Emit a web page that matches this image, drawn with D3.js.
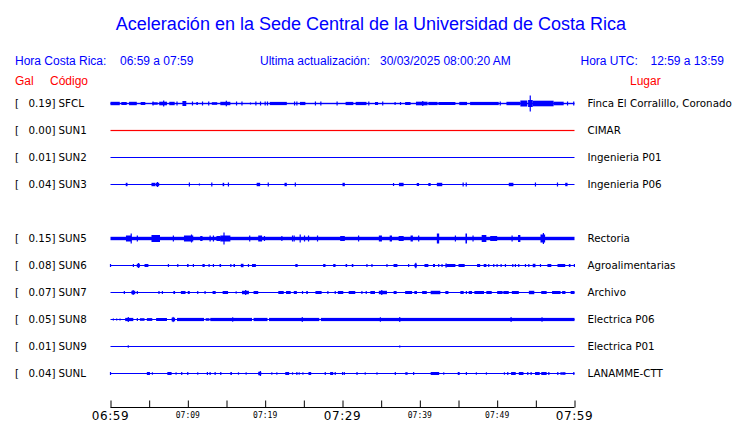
<!DOCTYPE html>
<html>
<head>
<meta charset="utf-8">
<script src="https://cdn.jsdelivr.net/npm/d3@7"></script>
<style>
  html, body { margin: 0; padding: 0; background: #fff; }
  svg { display: block; }
</style>
</head>
<body>
<svg id="chart" width="740" height="423"></svg>
<script>
// ---------------- DATA ----------------
const titleText = "Aceleración en la Sede Central de la Universidad de Costa Rica";
const localRange = "06:59 a 07:59";
const utcRange = "12:59 a 13:59";
const lastUpdate = "30/03/2025 08:00:20 AM";

// row slots (SUN4 slot is empty in the picture)
const slots = ["SFCL","SUN1","SUN2","SUN3","SUN4","SUN5","SUN6","SUN7","SUN8","SUN9","SUNL"];
const stations = ["SFCL","SUN1","SUN2","SUN3","SUN5","SUN6","SUN7","SUN8","SUN9","SUNL"];
const peakGal = [0.19, 0.00, 0.01, 0.04, 0.15, 0.08, 0.07, 0.05, 0.01, 0.04];
const places = ["Finca El Corralillo, Coronado","CIMAR","Ingenieria P01","Ingenieria P06",
                "Rectoria","Agroalimentarias","Archivo","Electrica P06","Electrica P01","LANAMME-CTT"];
// background noise level (relative amplitude) of each trace
const baseLevel = [0.07, 0.06, 0.05, 0.05, 0.17, 0.05, 0.05, 0.05, 0.05, 0.05];

// time axis: minutes after 06:59
const tickMinutes = [0,5,10,15,20,25,30,35,40,45,50,55,60];
const tickLabels = {0:"06:59",10:"07:09",20:"07:19",30:"07:29",40:"07:39",50:"07:49",60:"07:59"};
const majorLabels = [0,30,60];

// bursts: [start minute, end minute, relative amplitude]
const sfclBursts = [[0,1.2,.17],[1.4,2.1,.15],[2.4,3.4,.17],[3.9,4.5,.15],[5.4,6.1,.12],[6.3,7.3,.18],[6.8,6.9,.3],
  [7.6,8.3,.17],[9.3,9.8,.25],[11.1,11.3,.15],[13.1,13.8,.13],[14.2,15.5,.17],[14.9,15.0,.28],[20.6,22.8,.16],
  [24.5,25.2,.16],[30.4,31.4,.16],[31.7,33.1,.16],[34.2,34.6,.15],[38.1,38.8,.15],[39.5,41.0,.18],[40.3,40.4,.25],
  [41.1,42.3,.16],[42.4,44.6,.15],[45.1,46.1,.16],[46.5,50.2,.16],[51.2,53.0,.17],[53.0,53.9,.3],[54.0,54.6,.35],
  [54.2,54.3,.8],[54.6,57.3,.28],[57.3,58.6,.18]];
const sfclSpikes = [[5.5,.2],[8.6,.2],[10.6,.2],[11.9,.2],[12.7,.2],[16.3,.2],[17.0,.2],[18.1,.1],[18.8,.2],[19.4,.2],
  [20.0,.2],[20.3,.2],[23.8,.2],[24.1,.2],[26.5,.2],[27.2,.2],[29.3,.2],[33.4,.2],[35.2,.2],[36.8,.15],[37.5,.15],
  [50.4,.2],[59.1,.2],[59.9,.2]];

const sun1Bursts = [], sun1Spikes = [];
const sun2Bursts = [], sun2Spikes = [];

const sun3Bursts = [[1.97,2.2,.17],[5.3,5.8,.17],[5.85,6.3,.17],[6.0,6.1,.25],[14.5,14.7,.17],[18.9,19.35,.17],
  [22.5,22.8,.17],[30.0,30.3,.17],[37.3,37.9,.17],[39.6,39.9,.15],[41.1,41.4,.15],[42.2,42.9,.17],[51.5,52.1,.17],
  [58.8,59.1,.17]];
const sun3Spikes = [[10.2,.2],[11.5,.1],[13.1,.2],[15.25,.2],[20.4,.2],[23.9,.2],[36.6,.15],[45.6,.2],[46.0,.2],
  [54.95,.2],[57.8,.2]];

const sun5Bursts = [[2.0,2.7,.3],[2.6,2.7,.5],[5.3,6.4,.35],[9.5,10.7,.3],[10.4,10.5,.4],[11.6,11.9,.25],
  [13.7,14.2,.25],[14.2,15.5,.3],[14.6,14.7,.6],[19.1,19.6,.3],[29.7,30.3,.25],[34.7,35.1,.3],[36.1,36.4,.3],
  [37.26,37.91,.25],[38.8,39.1,.3],[42.2,42.5,.5],[45.9,46.1,.5],[48.0,48.6,.35],[49.1,50.0,.25],[52.7,53.0,.35],
  [55.6,56.2,.4],[55.9,56.0,.55]];
const sun5Spikes = [[3.47,.3],[8.13,.3],[12.88,.3],[13.31,.3],[18.0,.3],[19.91,.25],[22.16,.25],[23.54,.3],
  [23.75,.3],[24.53,.4],[25.09,.3],[25.61,.3],[26.77,.3],[32.08,.3],[39.85,.3],[44.6,.3],[46.88,.3],[51.93,.3]];

const sun6Bursts = [[3.4,3.8,.17],[3.55,3.65,.25],[4.4,4.9,.15],[9.9,10.1,.15],[11.89,12.18,.15],[14.1,14.3,.15],
  [15.9,16.1,.15],[16.85,17.2,.17],[18.3,18.8,.15],[23.9,24.2,.15],[27.5,27.8,.15],[28.8,29.1,.15],[30.4,30.6,.15],
  [31.2,31.4,.15],[36.6,37.1,.15],[39.3,39.6,.17],[39.4,39.5,.27],[40.6,41.1,.15],[41.7,41.96,.15],[43.3,43.5,.2],
  [43.5,44.6,.15],[45.0,45.8,.15],[47.4,47.8,.15],[48.26,48.61,.15],[54.6,54.95,.17],[56.5,57.0,.15],
  [57.8,58.8,.15],[59.27,59.48,.15],[59.91,60,.15]];
const sun6Spikes = [[0,.15],[2.96,.15],[7.49,.15],[8.7,.15],[10.72,.15],[12.75,.15],[13.31,.15],[15.56,.15],
  [17.84,.15],[33.16,.15],[33.81,.15],[35.75,.15],[38.55,.15],[42.44,.15],[42.87,.15],[48.91,.15],[49.56,.15],
  [49.99,.15],[50.51,.15],[51.07,.15],[52.02,.15],[52.36,.15],[52.79,.15],[53.66,.15],[54.09,.15],[55.6,.15]];

const sun7Bursts = [[2.7,3.2,.17],[2.85,2.95,.25],[6.19,6.35,.15],[8.13,8.35,.15],[9.1,9.7,.15],[9.99,10.25,.15],
  [12.15,12.3,.15],[13.2,13.6,.15],[14.5,15.2,.15],[17.0,17.9,.17],[17.4,17.5,.25],[18.5,19.1,.15],[21.7,22.4,.15],
  [22.7,23.3,.15],[23.7,24.1,.15],[25.31,25.52,.15],[26.5,27.3,.15],[29.4,30.1,.15],[30.8,31.65,.15],[33.6,34.2,.15],
  [34.7,35.75,.17],[35.0,35.1,.25],[36.61,37.0,.15],[38.1,39.0,.15],[39.29,39.63,.15],[40.3,40.9,.15],
  [41.4,42.65,.17],[43.3,43.7,.15],[45.24,45.67,.15],[46.32,46.75,.15],[47.05,48.3,.15],[48.6,49.3,.15],
  [50.0,50.7,.15],[50.8,51.5,.15],[51.9,52.8,.15],[54.1,54.8,.17],[55.7,56.4,.15],[57.1,58.2,.15],
  [58.4,58.83,.15],[59.5,60,.15]];
const sun7Spikes = [[1.79,.15],[3.47,.15],[6.71,.15],[11.28,.15],[16.25,.12],[24.83,.15],[28.11,.15],[29.06,.15],
  [32.51,.15],[33.07,.15],[46.02,.15]];

const sun8Bursts = [[1.9,2.95,.16],[3.8,4.4,.13],[4.7,5.4,.14],[5.9,7.3,.15],[7.9,8.35,.18],[8.6,12.1,.16],
  [12.3,12.8,.13],[12.9,18.3,.16],[18.5,20.3,.16],[20.5,27.0,.16],[27.2,60,.16]];
const sun8Spikes = [[0.37,.1],[0.8,.1],[1.23,.1],[2.3,.25],[3.47,.15],[8.1,.26],[15.8,.22],[17.9,.1],[24.8,.24],
  [34.9,.22],[37.4,.24],[51.8,.24],[55.8,.22]];

const sun9Bursts = [];
const sun9Spikes = [[2.3,.12],[37.4,.1]];

const sunlBursts = [[4.7,5.1,.15],[7.35,7.9,.15],[15.5,15.7,.15],[19.1,19.5,.17],[19.3,19.4,.25],[22.6,23.1,.15],
  [25.6,25.95,.15],[28.4,28.8,.15],[31.8,31.95,.15],[38.12,38.42,.13],[41.4,42.5,.15],[44.9,45.15,.15],
  [51.8,52.4,.15],[52.8,53.4,.15],[54.9,55.5,.15],[55.7,56.4,.15],[58.4,58.83,.13]];
const sunlSpikes = [[0,.15],[5.42,.12],[8.48,.12],[9.21,.15],[9.99,.15],[11.28,.12],[12.53,.15],[12.88,.15],
  [13.53,.15],[14.26,.15],[16.55,.12],[17.54,.12],[20.86,.12],[21.51,.12],[23.54,.12],[24.1,.15],[24.4,.12],
  [24.88,.12],[27.77,.15],[29.06,.15],[30.01,.15],[30.23,.15],[32.94,.12],[34.46,.12],[36.83,.15],[39.2,.15],
  [43.09,.12],[46.02,.15],[47.31,.12],[48.61,.12],[50.94,.12],[51.37,.15],[53.96,.15],[54.39,.15],[56.68,.15],
  [57.84,.15],[58.27,.15],[59.91,.15]];

const burstsByStation = [sfclBursts, sun1Bursts, sun2Bursts, sun3Bursts, sun5Bursts, sun6Bursts, sun7Bursts, sun8Bursts, sun9Bursts, sunlBursts];
const spikesByStation = [sfclSpikes, sun1Spikes, sun2Spikes, sun3Spikes, sun5Spikes, sun6Spikes, sun7Spikes, sun8Spikes, sun9Spikes, sunlSpikes];

// ---------------- DRAWING ----------------
const BLUE = "#0000ff", RED = "#ff0000";
const svg = d3.select("#chart");

const x = d3.scaleLinear().domain([0, 60]).range([110.5, 574.5]);
const y = d3.scalePoint().domain(slots).range([103.5, 373.5]);
const amp = d3.scaleLinear().domain([0, 1]).range([0, 10]);

const sansHead = "'Liberation Sans', Arial, Helvetica, sans-serif";
const sansRow = "'DejaVu Sans', sans-serif";

// title
svg.append("text").attr("x", 371).attr("y", 30)
  .attr("text-anchor", "middle").attr("fill", BLUE)
  .style("font-family", sansHead).style("font-size", "18px")
  .text(titleText);

// header line 1
const head = svg.append("g").style("font-family", sansHead).style("font-size", "12px").attr("fill", BLUE);
head.append("text").attr("x", 15).attr("y", 65).text("Hora Costa Rica:");
head.append("text").attr("x", 120).attr("y", 65).text(localRange);
head.append("text").attr("x", 260).attr("y", 65).text("Ultima actualización:");
head.append("text").attr("x", 380).attr("y", 65).text(lastUpdate);
head.append("text").attr("x", 580.5).attr("y", 65).text("Hora UTC:");
head.append("text").attr("x", 650.5).attr("y", 65).text(utcRange);

// header line 2 (red)
const head2 = svg.append("g").style("font-family", sansHead).style("font-size", "12px").attr("fill", RED);
head2.append("text").attr("x", 15).attr("y", 84.5).text("Gal");
head2.append("text").attr("x", 50).attr("y", 84.5).text("Código");
head2.append("text").attr("x", 630).attr("y", 84.5).text("Lugar");

// rows
const rows = svg.selectAll("g.row").data(stations).join("g").attr("class", "row");

rows.each(function(code, i) {
  const g = d3.select(this);
  const cy = y(code);
  const color = code === "SUN1" ? RED : BLUE;
  const txt = g.append("g").style("font-family", sansRow).style("font-size", "10.3px").attr("fill", "#000");
  txt.append("text").attr("x", 15).attr("y", cy + 3.7).text("[");
  txt.append("text").attr("x", 55.5).attr("y", cy + 3.7).attr("text-anchor", "end").text(peakGal[i].toFixed(2) + "]");
  txt.append("text").attr("x", 58.5).attr("y", cy + 3.7).text(code);
  txt.append("text").attr("x", 587.5).attr("y", cy + 3.7).text(places[i]);

  const tr = g.append("g").attr("fill", color);
  // background level
  const bh = Math.max(1, 2 * amp(baseLevel[i]));
  tr.append("rect").attr("x", x(0)).attr("width", x(60) - x(0))
    .attr("y", cy - bh / 2).attr("height", bh);
  // bursts
  tr.selectAll("rect.burst").data(burstsByStation[i]).join("rect").attr("class", "burst")
    .attr("x", d => x(d[0]))
    .attr("width", d => Math.max(1.2, x(d[1]) - x(d[0])))
    .attr("y", d => cy - amp(d[2]))
    .attr("height", d => 2 * amp(d[2]));
  // spikes
  tr.selectAll("rect.spike").data(spikesByStation[i]).join("rect").attr("class", "spike")
    .attr("x", d => x(d[0]) - 0.6)
    .attr("width", 1.2)
    .attr("y", d => cy - amp(d[1]))
    .attr("height", d => 2 * amp(d[1]));
});

// time axis
const axisY = 407.5;
const ax = svg.append("g").attr("transform", `translate(0,${axisY})`)
  .call(d3.axisTop(x).tickValues(tickMinutes).tickSize(7).tickFormat(""));
ax.select(".domain").attr("stroke", "#000").attr("d", `M${x(0)},0H${x(60)}`);
ax.selectAll(".tick line").attr("stroke", "#000");

const lab = svg.append("g");
lab.selectAll("text").data(Object.keys(tickLabels).map(Number)).join("text")
  .attr("x", d => x(d))
  .attr("y", d => majorLabels.includes(d) ? 419.5 : 417.5)
  .attr("text-anchor", "middle")
  .attr("fill", "#000")
  .style("font-family", d => majorLabels.includes(d) ? "'DejaVu Sans', sans-serif" : "'DejaVu Sans Mono', monospace")
  .style("font-size", d => majorLabels.includes(d) ? "12px" : "8px")
  .style("letter-spacing", d => majorLabels.includes(d) ? "0.6px" : "0px")
  .text(d => tickLabels[d]);
</script>
</body>
</html>
